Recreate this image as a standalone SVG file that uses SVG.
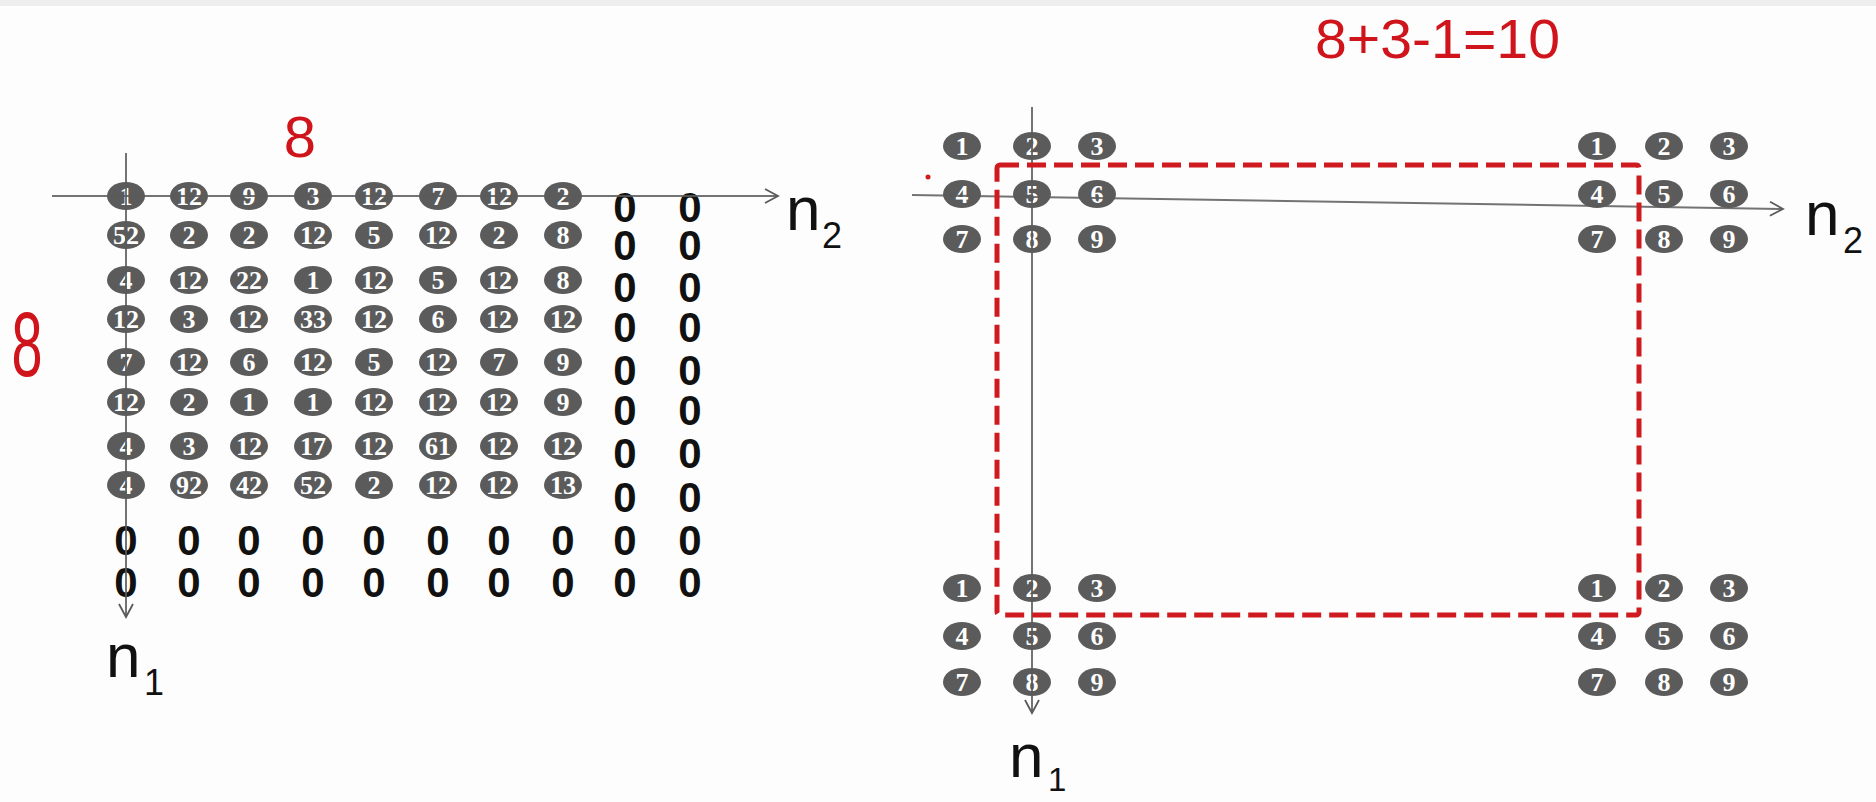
<svg xmlns="http://www.w3.org/2000/svg" xmlns:xlink="http://www.w3.org/1999/xlink" width="1876" height="802" viewBox="0 0 1876 802">
<style>
.e{fill:#5b5b5b}
.n text{font-family:"Liberation Serif",serif;font-weight:bold;font-size:26px;fill:#fff;text-anchor:middle}
.z text{font-family:"Liberation Sans",sans-serif;font-weight:bold;font-size:42px;fill:#111;text-anchor:middle}
.ax{stroke:#5a5a5a;stroke-width:2;fill:none}
.lab{font-family:"Liberation Sans",sans-serif;fill:#111}
.red{fill:#d0141c;font-family:"Liberation Sans",sans-serif}
</style>
<defs>
<ellipse id="el" class="e" rx="19" ry="14"/>
<marker id="arr" markerUnits="userSpaceOnUse" markerWidth="16" markerHeight="16" viewBox="0 0 16 16" refX="14" refY="8" orient="auto">
<path d="M1,1 L14,8 L1,15" fill="none" stroke="#5a5a5a" stroke-width="1.8"/>
</marker>
</defs>
<rect width="1876" height="802" fill="#fdfdfd"/>
<rect x="0" y="0" width="1876" height="6" fill="#eeeeee"/>

<!-- left grid cells -->
<g id="left-grid" class="n">
<g id="L1_1"><use href="#el" x="126" y="196"/><text x="126" y="205">1</text></g>
<g id="L1_2"><use href="#el" x="189" y="196"/><text x="189" y="205">12</text></g>
<g id="L1_3"><use href="#el" x="249" y="196"/><text x="249" y="205">9</text></g>
<g id="L1_4"><use href="#el" x="313" y="196"/><text x="313" y="205">3</text></g>
<g id="L1_5"><use href="#el" x="374" y="196"/><text x="374" y="205">12</text></g>
<g id="L1_6"><use href="#el" x="438" y="196"/><text x="438" y="205">7</text></g>
<g id="L1_7"><use href="#el" x="499" y="196"/><text x="499" y="205">12</text></g>
<g id="L1_8"><use href="#el" x="563" y="196"/><text x="563" y="205">2</text></g>

<g id="L2_1"><use href="#el" x="126" y="235"/><text x="126" y="244">52</text></g>
<g id="L2_2"><use href="#el" x="189" y="235"/><text x="189" y="244">2</text></g>
<g id="L2_3"><use href="#el" x="249" y="235"/><text x="249" y="244">2</text></g>
<g id="L2_4"><use href="#el" x="313" y="235"/><text x="313" y="244">12</text></g>
<g id="L2_5"><use href="#el" x="374" y="235"/><text x="374" y="244">5</text></g>
<g id="L2_6"><use href="#el" x="438" y="235"/><text x="438" y="244">12</text></g>
<g id="L2_7"><use href="#el" x="499" y="235"/><text x="499" y="244">2</text></g>
<g id="L2_8"><use href="#el" x="563" y="235"/><text x="563" y="244">8</text></g>

<g id="L3_1"><use href="#el" x="126" y="280"/><text x="126" y="289">4</text></g>
<g id="L3_2"><use href="#el" x="189" y="280"/><text x="189" y="289">12</text></g>
<g id="L3_3"><use href="#el" x="249" y="280"/><text x="249" y="289">22</text></g>
<g id="L3_4"><use href="#el" x="313" y="280"/><text x="313" y="289">1</text></g>
<g id="L3_5"><use href="#el" x="374" y="280"/><text x="374" y="289">12</text></g>
<g id="L3_6"><use href="#el" x="438" y="280"/><text x="438" y="289">5</text></g>
<g id="L3_7"><use href="#el" x="499" y="280"/><text x="499" y="289">12</text></g>
<g id="L3_8"><use href="#el" x="563" y="280"/><text x="563" y="289">8</text></g>

<g id="L4_1"><use href="#el" x="126" y="319"/><text x="126" y="328">12</text></g>
<g id="L4_2"><use href="#el" x="189" y="319"/><text x="189" y="328">3</text></g>
<g id="L4_3"><use href="#el" x="249" y="319"/><text x="249" y="328">12</text></g>
<g id="L4_4"><use href="#el" x="313" y="319"/><text x="313" y="328">33</text></g>
<g id="L4_5"><use href="#el" x="374" y="319"/><text x="374" y="328">12</text></g>
<g id="L4_6"><use href="#el" x="438" y="319"/><text x="438" y="328">6</text></g>
<g id="L4_7"><use href="#el" x="499" y="319"/><text x="499" y="328">12</text></g>
<g id="L4_8"><use href="#el" x="563" y="319"/><text x="563" y="328">12</text></g>

<g id="L5_1"><use href="#el" x="126" y="362"/><text x="126" y="371">7</text></g>
<g id="L5_2"><use href="#el" x="189" y="362"/><text x="189" y="371">12</text></g>
<g id="L5_3"><use href="#el" x="249" y="362"/><text x="249" y="371">6</text></g>
<g id="L5_4"><use href="#el" x="313" y="362"/><text x="313" y="371">12</text></g>
<g id="L5_5"><use href="#el" x="374" y="362"/><text x="374" y="371">5</text></g>
<g id="L5_6"><use href="#el" x="438" y="362"/><text x="438" y="371">12</text></g>
<g id="L5_7"><use href="#el" x="499" y="362"/><text x="499" y="371">7</text></g>
<g id="L5_8"><use href="#el" x="563" y="362"/><text x="563" y="371">9</text></g>

<g id="L6_1"><use href="#el" x="126" y="402"/><text x="126" y="411">12</text></g>
<g id="L6_2"><use href="#el" x="189" y="402"/><text x="189" y="411">2</text></g>
<g id="L6_3"><use href="#el" x="249" y="402"/><text x="249" y="411">1</text></g>
<g id="L6_4"><use href="#el" x="313" y="402"/><text x="313" y="411">1</text></g>
<g id="L6_5"><use href="#el" x="374" y="402"/><text x="374" y="411">12</text></g>
<g id="L6_6"><use href="#el" x="438" y="402"/><text x="438" y="411">12</text></g>
<g id="L6_7"><use href="#el" x="499" y="402"/><text x="499" y="411">12</text></g>
<g id="L6_8"><use href="#el" x="563" y="402"/><text x="563" y="411">9</text></g>

<g id="L7_1"><use href="#el" x="126" y="446"/><text x="126" y="455">4</text></g>
<g id="L7_2"><use href="#el" x="189" y="446"/><text x="189" y="455">3</text></g>
<g id="L7_3"><use href="#el" x="249" y="446"/><text x="249" y="455">12</text></g>
<g id="L7_4"><use href="#el" x="313" y="446"/><text x="313" y="455">17</text></g>
<g id="L7_5"><use href="#el" x="374" y="446"/><text x="374" y="455">12</text></g>
<g id="L7_6"><use href="#el" x="438" y="446"/><text x="438" y="455">61</text></g>
<g id="L7_7"><use href="#el" x="499" y="446"/><text x="499" y="455">12</text></g>
<g id="L7_8"><use href="#el" x="563" y="446"/><text x="563" y="455">12</text></g>

<g id="L8_1"><use href="#el" x="126" y="485"/><text x="126" y="494">4</text></g>
<g id="L8_2"><use href="#el" x="189" y="485"/><text x="189" y="494">92</text></g>
<g id="L8_3"><use href="#el" x="249" y="485"/><text x="249" y="494">42</text></g>
<g id="L8_4"><use href="#el" x="313" y="485"/><text x="313" y="494">52</text></g>
<g id="L8_5"><use href="#el" x="374" y="485"/><text x="374" y="494">2</text></g>
<g id="L8_6"><use href="#el" x="438" y="485"/><text x="438" y="494">12</text></g>
<g id="L8_7"><use href="#el" x="499" y="485"/><text x="499" y="494">12</text></g>
<g id="L8_8"><use href="#el" x="563" y="485"/><text x="563" y="494">13</text></g>
</g>

<!-- zero padding -->
<g id="zeros" class="z">
<g id="Z_c9"><text x="625" y="222">0</text><text x="625" y="260">0</text><text x="625" y="302">0</text><text x="625" y="342">0</text><text x="625" y="385">0</text><text x="625" y="425">0</text><text x="625" y="468">0</text><text x="625" y="512">0</text><text x="625" y="555">0</text><text x="625" y="597">0</text></g>
<g id="Z_c10"><text x="690" y="222">0</text><text x="690" y="260">0</text><text x="690" y="302">0</text><text x="690" y="342">0</text><text x="690" y="385">0</text><text x="690" y="425">0</text><text x="690" y="468">0</text><text x="690" y="512">0</text><text x="690" y="555">0</text><text x="690" y="597">0</text></g>
<g id="Z_r9"><text x="126" y="555">0</text><text x="189" y="555">0</text><text x="249" y="555">0</text><text x="313" y="555">0</text><text x="374" y="555">0</text><text x="438" y="555">0</text><text x="499" y="555">0</text><text x="563" y="555">0</text></g>
<g id="Z_r10"><text x="126" y="597">0</text><text x="189" y="597">0</text><text x="249" y="597">0</text><text x="313" y="597">0</text><text x="374" y="597">0</text><text x="438" y="597">0</text><text x="499" y="597">0</text><text x="563" y="597">0</text></g>
</g>

<!-- right 3x3 kernels -->
<g id="kernel-tl" class="n">
<g id="TL1"><use href="#el" x="962" y="146"/><text x="962" y="155">1</text></g>
<g id="TL2"><use href="#el" x="1032" y="146"/><text x="1032" y="155">2</text></g>
<g id="TL3"><use href="#el" x="1097" y="146"/><text x="1097" y="155">3</text></g>
<g id="TL4"><use href="#el" x="962" y="194"/><text x="962" y="203">4</text></g>
<g id="TL5"><use href="#el" x="1032" y="194"/><text x="1032" y="203">5</text></g>
<g id="TL6"><use href="#el" x="1097" y="194"/><text x="1097" y="203">6</text></g>
<g id="TL7"><use href="#el" x="962" y="239"/><text x="962" y="248">7</text></g>
<g id="TL8"><use href="#el" x="1032" y="239"/><text x="1032" y="248">8</text></g>
<g id="TL9"><use href="#el" x="1097" y="239"/><text x="1097" y="248">9</text></g>
</g>
<g id="kernel-tr" class="n">
<g id="TR1"><use href="#el" x="1597" y="146"/><text x="1597" y="155">1</text></g>
<g id="TR2"><use href="#el" x="1664" y="146"/><text x="1664" y="155">2</text></g>
<g id="TR3"><use href="#el" x="1729" y="146"/><text x="1729" y="155">3</text></g>
<g id="TR4"><use href="#el" x="1597" y="194"/><text x="1597" y="203">4</text></g>
<g id="TR5"><use href="#el" x="1664" y="194"/><text x="1664" y="203">5</text></g>
<g id="TR6"><use href="#el" x="1729" y="194"/><text x="1729" y="203">6</text></g>
<g id="TR7"><use href="#el" x="1597" y="239"/><text x="1597" y="248">7</text></g>
<g id="TR8"><use href="#el" x="1664" y="239"/><text x="1664" y="248">8</text></g>
<g id="TR9"><use href="#el" x="1729" y="239"/><text x="1729" y="248">9</text></g>
</g>
<g id="kernel-bl" class="n">
<g id="BL1"><use href="#el" x="962" y="588"/><text x="962" y="597">1</text></g>
<g id="BL2"><use href="#el" x="1032" y="588"/><text x="1032" y="597">2</text></g>
<g id="BL3"><use href="#el" x="1097" y="588"/><text x="1097" y="597">3</text></g>
<g id="BL4"><use href="#el" x="962" y="636"/><text x="962" y="645">4</text></g>
<g id="BL5"><use href="#el" x="1032" y="636"/><text x="1032" y="645">5</text></g>
<g id="BL6"><use href="#el" x="1097" y="636"/><text x="1097" y="645">6</text></g>
<g id="BL7"><use href="#el" x="962" y="682"/><text x="962" y="691">7</text></g>
<g id="BL8"><use href="#el" x="1032" y="682"/><text x="1032" y="691">8</text></g>
<g id="BL9"><use href="#el" x="1097" y="682"/><text x="1097" y="691">9</text></g>
</g>
<g id="kernel-br" class="n">
<g id="BR1"><use href="#el" x="1597" y="588"/><text x="1597" y="597">1</text></g>
<g id="BR2"><use href="#el" x="1664" y="588"/><text x="1664" y="597">2</text></g>
<g id="BR3"><use href="#el" x="1729" y="588"/><text x="1729" y="597">3</text></g>
<g id="BR4"><use href="#el" x="1597" y="636"/><text x="1597" y="645">4</text></g>
<g id="BR5"><use href="#el" x="1664" y="636"/><text x="1664" y="645">5</text></g>
<g id="BR6"><use href="#el" x="1729" y="636"/><text x="1729" y="645">6</text></g>
<g id="BR7"><use href="#el" x="1597" y="682"/><text x="1597" y="691">7</text></g>
<g id="BR8"><use href="#el" x="1664" y="682"/><text x="1664" y="691">8</text></g>
<g id="BR9"><use href="#el" x="1729" y="682"/><text x="1729" y="691">9</text></g>
</g>

<!-- axes / connectors -->
<g id="connectors" class="ax" stroke-opacity="0.85">
<line x1="52" y1="196" x2="778" y2="196" marker-end="url(#arr)"/>
<line x1="126" y1="153" x2="126" y2="617" marker-end="url(#arr)"/>
<line x1="912" y1="195" x2="1783" y2="209" marker-end="url(#arr)"/>
<line x1="1032" y1="107" x2="1032" y2="713" marker-end="url(#arr)"/>
</g>

<!-- axis labels -->
<g id="labels" class="lab">
<text x="786" y="230" font-size="62">n</text><text x="822" y="248" font-size="36">2</text>
<text x="106" y="677" font-size="62">n</text><text x="144" y="695" font-size="36">1</text>
<text x="1805" y="235" font-size="62">n</text><text x="1843" y="253" font-size="36">2</text>
<text x="1009" y="777" font-size="62">n</text><text x="1048" y="791" font-size="33">1</text>
</g>

<!-- red annotations -->
<g id="annotations">
<rect x="997" y="165" width="642" height="450" rx="3" fill="none" stroke="#cf1b1f" stroke-width="5" stroke-dasharray="19 8"/>
<circle cx="928" cy="177" r="2.5" fill="#cf1b1f"/>
<text class="red" x="300" y="157" font-size="58" text-anchor="middle">8</text>
<text class="red" font-size="90" text-anchor="middle" transform="translate(27,376) scale(0.62,1)">8</text>
<text class="red" x="1315" y="58" font-size="56" textLength="245" lengthAdjust="spacingAndGlyphs">8+3-1=10</text>
</g>
</svg>
